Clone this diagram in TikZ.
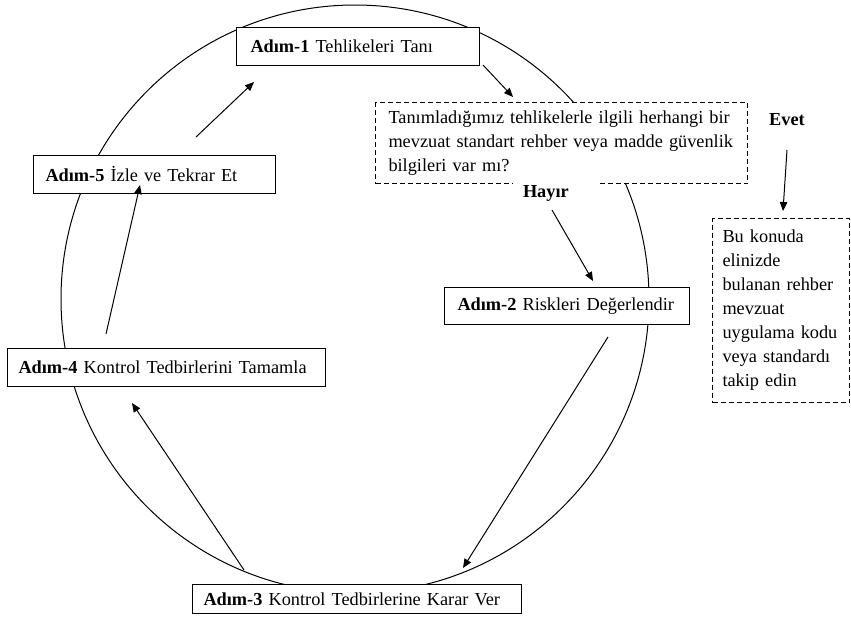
\documentclass[tikz,border=0pt]{standalone}
\usepackage{fontspec}
\setmainfont{Liberation Serif}
\usetikzlibrary{arrows.meta}
\begin{document}
\begin{tikzpicture}[x=1pt,y=-1pt,
  txt/.style={font=\fontsize{18.3}{24}\selectfont},
  stepbox/.style={txt, draw, line width=1pt, fill=white, rectangle, anchor=north west, inner ysep=0pt, align=left},
  dashbox/.style={stepbox, dash pattern=on 5pt off 3pt},
  arr/.style={line width=1pt, -{Triangle[length=9pt,width=7.5pt]}},
  lbl/.style={txt, font=\fontsize{18.3}{24}\selectfont\bfseries}]
\useasboundingbox (0,0) rectangle (851,625);
\fill[white] (0,0) rectangle (851,625);
\draw[line width=1pt] (355,299) circle [radius=294pt];

\node[stepbox, inner xsep=14pt, text width=215pt, minimum height=38pt] (s1) at (236,27) {\textbf{Adım-1} Tehlikeleri Tanı};
\node[dashbox, inner xsep=13pt, text width=346pt, minimum height=81pt] (q) at (375,102) {Tanımladığımız tehlikelerle ilgili herhangi bir\\ mevzuat standart rehber veya madde güvenlik\\ bilgileri var mı?};
\node[stepbox, inner xsep=13pt, text width=219pt, minimum height=37pt] (s2) at (444,287) {\textbf{Adım-2} Riskleri Değerlendir};
\node[stepbox, inner xsep=11pt, text width=307pt, minimum height=29pt] (s3) at (192,584) {\textbf{Adım-3} Kontrol Tedbirlerine Karar Ver};
\node[stepbox, inner xsep=11pt, text width=296pt, minimum height=38pt] (s4) at (7,348) {\textbf{Adım-4} Kontrol Tedbirlerini Tamamla};
\node[stepbox, inner xsep=12pt, text width=218pt, minimum height=38pt] (s5) at (33,155) {\textbf{Adım-5} İzle ve Tekrar Et};
\node[dashbox, inner xsep=10pt, text width=117pt, minimum height=184pt] (r) at (712,218) {Bu konuda\\ elinizde\\ bulanan rehber\\ mevzuat\\ uygulama kodu\\ veya standardı\\ takip edin};

\node[lbl, fill=white, minimum width=87pt, minimum height=24pt, inner xsep=10pt, text width=67pt, align=left] (hayir) at (556.5,193) {Hayır};
\node[lbl] (evet) at (787,120) {Evet};

\coordinate (a1s) at (483,65);  \coordinate (a1e) at (513,97);
\coordinate (hs) at (552,210);  \coordinate (he) at (593,281);
\coordinate (es) at (787,150);  \coordinate (ee) at (783,211);
\coordinate (b2s) at (608,337); \coordinate (b2e) at (463,568);
\coordinate (b3s) at (244,570); \coordinate (b3e) at (132,403);
\coordinate (b4s) at (106,334); \coordinate (b4e) at (140,185);
\coordinate (b5s) at (196,137); \coordinate (b5e) at (254,82);

\draw[arr] (a1s) -- (a1e);
\draw[arr] (hs) -- (he);
\draw[arr] (es) -- (ee);
\draw[arr] (b2s) -- (b2e);
\draw[arr] (b3s) -- (b3e);
\draw[arr] (b4s) -- (b4e);
\draw[arr] (b5s) -- (b5e);
\end{tikzpicture}
\end{document}
